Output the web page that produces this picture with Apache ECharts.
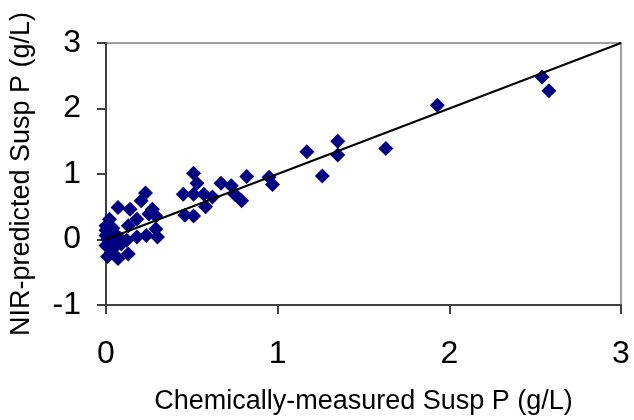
<!DOCTYPE html>
<html><head><meta charset="utf-8">
<script src="https://cdn.jsdelivr.net/npm/echarts@6/dist/echarts.min.js"></script>
<style>html,body{margin:0;padding:0;background:#fff}#c{width:634px;height:420px}</style>
</head><body><div id="c"></div>
<script>
var chemX = [1.93,2.54,2.58,1.17,1.35,1.35,1.26,1.63,0.95,0.97,
  0.51,0.53,0.45,0.51,0.57,0.46,0.51,0.58,0.62,0.67,0.73,0.75,0.79,0.82,
  0.23,0.205,0.07,0.14,0.25,0.29,0.02,0.18,0.13,0.0,0.29,0.30,0.235,0.18,0.12,0.06,0.0,0.0,0.04,0.13,0.07,0.01,0.0,0.03,0.09,0.27,0.01,0.02,0.05,0.03,0.04,0.08];
var nirY = [2.05,2.48,2.27,1.34,1.50,1.29,0.97,1.39,0.95,0.84,
  1.01,0.86,0.69,0.69,0.69,0.37,0.36,0.50,0.65,0.86,0.82,0.69,0.59,0.96,
  0.71,0.59,0.49,0.46,0.39,0.36,0.31,0.31,0.21,0.21,0.16,0.04,0.06,0.04,-0.01,0.06,0.06,-0.09,-0.14,-0.22,-0.29,-0.26,0.14,-0.04,-0.07,0.46,0.0,0.11,0.02,-0.20,0.17,0.02];
var xTicks = [0,1,2,3];
var yTicks = [-1,0,1,2,3];
var lineX = [0,3];
var lineY = [0,3];

var pts = chemX.map(function(v,i){return [v,nirY[i]];});
var linePts = lineX.map(function(v,i){return [v,lineY[i]];});
var chart = echarts.init(document.getElementById('c'));
var font = 'Arial, "Liberation Sans", sans-serif';
chart.setOption({
  animation:false,
  grid:{left:106,right:13,top:43,bottom:111,show:true,borderColor:'#a0a0a0',borderWidth:2,backgroundColor:'transparent'},
  xAxis:{type:'value',min:xTicks[0],max:xTicks[xTicks.length-1],interval:1,
    name:'Chemically-measured Susp P (g/L)',nameLocation:'middle',nameGap:83,
    nameTextStyle:{fontFamily:font,fontSize:27,color:'#000'},
    axisLine:{onZero:false,lineStyle:{color:'#404040',width:2}},
    axisTick:{show:true,length:9,lineStyle:{color:'#404040',width:2}},
    axisLabel:{margin:33,fontFamily:font,fontSize:32,color:'#000'},
    splitLine:{show:false}},
  yAxis:{type:'value',min:yTicks[0],max:yTicks[yTicks.length-1],interval:1,
    name:'NIR-predicted Susp P (g/L)',nameLocation:'middle',nameGap:71,
    nameTextStyle:{fontFamily:font,fontSize:27,color:'#000'},
    axisLine:{onZero:false,lineStyle:{color:'#404040',width:2}},
    axisTick:{show:true,length:9,lineStyle:{color:'#404040',width:2}},
    axisLabel:{margin:25,fontFamily:font,fontSize:32,color:'#000'},
    splitLine:{show:false}},
  series:[
    {type:'scatter',data:pts,symbol:'diamond',symbolSize:15,itemStyle:{color:'#000080',opacity:1},z:2},
    {type:'line',data:linePts,showSymbol:false,symbol:'none',lineStyle:{color:'#000',width:2},z:3}
  ]
});
</script></body></html>
